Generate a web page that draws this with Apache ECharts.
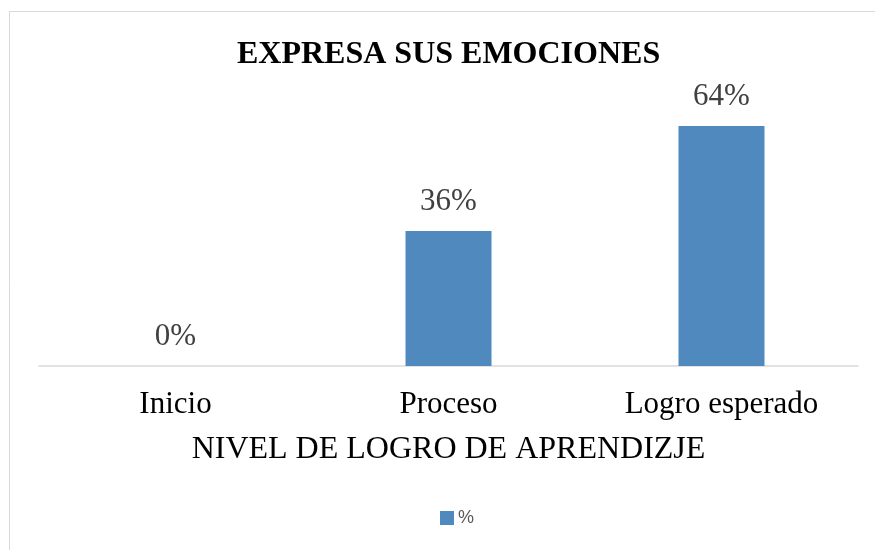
<!DOCTYPE html>
<html>
<head>
<meta charset="utf-8">
<script src="https://cdn.jsdelivr.net/npm/echarts@6/dist/echarts.min.js"></script>
<style>
  html, body { margin: 0; padding: 0; background: #fff; }
  #chart { width: 875px; height: 550px; }
</style>
</head>
<body>
<div id="chart"></div>
<script>
const categories = ['Inicio', 'Proceso', 'Logro esperado']
const values = [0, 36, 64]
const seriesName = '%'

const chart = echarts.init(document.getElementById('chart'))

const serif = '"Liberation Serif", "Times New Roman", serif'

chart.setOption({
  animation: false,
  title: {
    text: 'EXPRESA SUS EMOCIONES',
    left: 232,
    top: 34,
    textStyle: { fontFamily: serif, fontSize: 32, fontWeight: 'bold', color: '#000' }
  },
  graphic: [{
    type: 'rect',
    shape: { x: 9.5, y: 11.5, width: 900, height: 600 },
    style: { fill: 'none', stroke: '#d9d9d9', lineWidth: 1 },
    silent: true
  }],
  legend: {
    bottom: 18,
    left: 435,
    itemWidth: 14,
    itemHeight: 14,
    itemGap: 5,
    icon: 'rect',
    textStyle: { fontFamily: '"Liberation Sans", Arial, sans-serif', fontSize: 18, color: '#595959', padding: [0, 0, 0, -1] },
    data: [seriesName]
  },
  grid: {
    left: 39,
    right: 17,
    top: 103.5,
    bottom: 184
  },
  xAxis: {
    type: 'category',
    data: categories,
    name: 'NIVEL DE LOGRO DE APRENDIZJE',
    nameLocation: 'middle',
    nameGap: 68,
    nameTextStyle: { fontFamily: serif, fontSize: 32, color: '#000' },
    axisLine: { lineStyle: { color: '#d9d9d9', width: 1.5 } },
    axisTick: { show: false },
    axisLabel: { fontFamily: serif, fontSize: 31, color: '#000', margin: 23 }
  },
  yAxis: {
    type: 'value',
    min: 0,
    max: 70,
    show: false,
    splitLine: { show: false }
  },
  series: [{
    name: seriesName,
    type: 'bar',
    data: values,
    barWidth: '31.5%',
    itemStyle: { color: '#4f89bd' },
    label: {
      show: true,
      position: 'top',
      distance: 14,
      formatter: '{c}%',
      fontFamily: serif,
      fontSize: 31,
      color: '#404040'
    }
  }]
})
</script>
</body>
</html>
